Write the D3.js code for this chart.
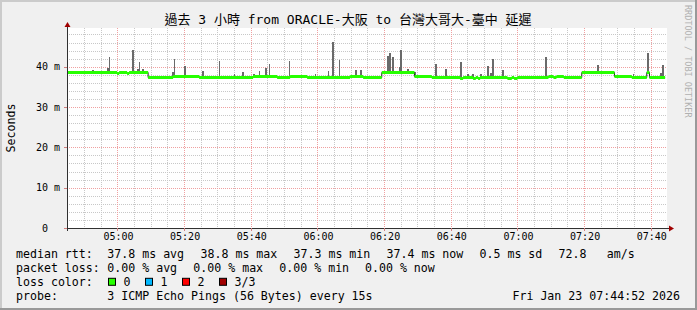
<!DOCTYPE html>
<html>
<head>
<meta charset="utf-8">
<script src="https://cdn.jsdelivr.net/npm/d3@7"></script>
<style>
  body { margin: 0; background: #f0f0f0; }
  svg text { font-family: "DejaVu Sans Mono", "Noto Sans CJK TC", monospace; white-space: pre; }
</style>
</head>
<body>
<svg id="chart" width="697" height="310"></svg>
<script>
// median rtt (ms): each value holds from its start time (minutes after 04:45)
var medianTimes  = [-0.13, 14.9, 15.5, 17.9, 18.5, 24.2, 31.7, 39.5, 55.7, 62.9, 66.8, 71.9,
                    84.8, 88.7, 94.3, 104.1, 109.3, 117.8, 118.7, 121.7, 122.5, 123.2, 123.8, 132.0,
                    133.3, 134.0, 135.0, 144.3, 145.8, 146.7, 148.9, 154.3, 164.1, 169.3, 173.8, 174.6];
var medianValues = [38.8, 38.5, 38.8, 38.5, 38.8, 37.4, 37.7, 37.4, 37.6, 37.4, 37.6, 37.4,
                    37.6, 37.5, 38.8, 37.7, 37.5, 37.3, 37.5, 37.3, 37.5, 37.3, 37.5, 37.3,
                    37.5, 37.2, 37.5, 37.7, 37.5, 37.7, 37.5, 38.8, 37.7, 37.4, 38.7, 37.4];
var medianEnd = 179.3;

// smoke (max ping) spikes: start minute, duration in minutes, top value (ms)
var smokeTimes  = [7.4, 11.9, 12.5, 19.3, 20.8, 21.5, 22.3, 31.3, 32.0, 35.1, 40.4, 45.4,
                   50.0, 52.3, 55.7, 57.6, 59.3, 60.5, 66.5, 74.4, 78.3, 79.5, 81.5, 86.3,
                   87.8, 95.8, 96.6, 97.4, 99.5, 99.8, 101.8, 104.1, 110.3, 113.3, 117.8, 119.8,
                   121.5, 123.8, 125.8, 126.8, 127.4, 130.4, 143.3, 158.8, 169.8, 173.8, 177.8, 178.3];
var smokeWidths = [0.6, 0.9, 0.3, 0.6, 0.9, 0.3, 0.6, 0.9, 0.3, 0.6, 0.6, 0.3,
                   0.3, 0.6, 0.6, 0.3, 0.6, 0.3, 0.3, 0.3, 0.3, 0.6, 0.3, 0.6,
                   0.6, 0.6, 0.6, 0.6, 0.9, 0.6, 0.6, 0.6, 0.6, 0.6, 0.6, 0.6,
                   0.6, 0.6, 0.6, 0.6, 0.6, 0.6, 0.6, 0.6, 0.3, 0.6, 0.6, 0.6];
var smokeTops   = [39.2, 39.6, 42.4, 44.1, 39.4, 41.2, 39.4, 38.8, 42.0, 40.2, 39.0, 41.5,
                   38.3, 38.8, 38.3, 38.9, 39.7, 40.7, 41.4, 38.2, 39.0, 46.1, 41.7, 39.2,
                   39.2, 42.6, 43.4, 42.5, 40.0, 44.1, 39.4, 38.7, 40.7, 39.4, 41.2, 38.2,
                   38.1, 38.1, 40.2, 38.4, 41.9, 39.1, 42.4, 40.4, 38.2, 43.4, 38.4, 40.4];

var titleText = "過去 3 小時 from ORACLE-大阪 to 台灣大哥大-臺中 延遲";
var rttStats  = ["37.8 ms avg", "38.8 ms max", "37.3 ms min", "37.4 ms now", "0.5 ms sd", "72.8", "am/s"];
var lossStats = ["0.00 % avg", "0.00 % max", "0.00 % min", "0.00 % now"];
var lossLabels = ["0", "1", "2", "3/3"];
var lossColors = ["#26ff00", "#00b8ff", "#ff0000", "#a10000"];
var probeText = "3 ICMP Echo Pings (56 Bytes) every 15s";
var stampText = "Fri Jan 23 07:44:52 2026";
var yMax = 49.6;

var svg = d3.select("#chart");
var W = 697, H = 310;
var pLeft = 67, pRight = 667, pTop = 28, pBottom = 228;

var t0 = new Date(2026, 0, 23, 4, 45, 0);
function at(m) { return new Date(t0.getTime() + m * 60000); }

var x = d3.scaleTime().domain([at(-8 / 60), at(180 - 8 / 60)]).range([pLeft, pRight]);
var y = d3.scaleLinear().domain([0, yMax]).range([pBottom, pTop]);

function medianAt(m) {
	var i = d3.bisectRight(medianTimes, m) - 1;
	return medianValues[Math.max(0, i)];
}

// background + 3d border
svg.append("rect").attr("width", W).attr("height", H).attr("fill", "#f0f0f0");
svg.append("rect").attr("x", 0).attr("y", 0).attr("width", W).attr("height", 2).attr("fill", "#cbcbcb");
svg.append("rect").attr("x", 0).attr("y", 0).attr("width", 2).attr("height", H).attr("fill", "#cbcbcb");
svg.append("rect").attr("x", 0).attr("y", H - 2).attr("width", W).attr("height", 2).attr("fill", "#999999");
svg.append("rect").attr("x", W - 2).attr("y", 0).attr("width", 2).attr("height", H).attr("fill", "#999999");

svg.append("rect").attr("x", pLeft).attr("y", pTop).attr("width", pRight - pLeft).attr("height", pBottom - pTop)
	.attr("fill", "#ffffff");

// grid
var grid = svg.append("g").attr("stroke-width", 1).attr("stroke-dasharray", "1,1").attr("shape-rendering", "crispEdges");
var minorX = x.ticks(d3.timeMinute.every(5)).filter(function (d) { return d.getMinutes() % 20 !== 0; });
var majorX = x.ticks(d3.timeMinute.every(20));
var minorY = d3.range(2, yMax, 2).filter(function (v) { return v % 10 !== 0; });
var majorY = d3.range(10, yMax, 10);

grid.selectAll(".gx").data(minorX).enter().append("line")
	.attr("x1", function (d) { return Math.round(x(d)) + 0.5; })
	.attr("x2", function (d) { return Math.round(x(d)) + 0.5; })
	.attr("y1", pTop).attr("y2", pBottom).attr("stroke", "#c8c8c8");
grid.selectAll(".gy").data(minorY).enter().append("line")
	.attr("y1", function (d) { return Math.round(y(d)) + 0.5; })
	.attr("y2", function (d) { return Math.round(y(d)) + 0.5; })
	.attr("x1", pLeft).attr("x2", pRight).attr("stroke", "#c8c8c8");
grid.selectAll(".mx").data(majorX).enter().append("line")
	.attr("x1", function (d) { return Math.round(x(d)) + 0.5; })
	.attr("x2", function (d) { return Math.round(x(d)) + 0.5; })
	.attr("y1", pTop).attr("y2", pBottom).attr("stroke", "#f0a0a0");
grid.selectAll(".my").data(majorY).enter().append("line")
	.attr("y1", function (d) { return Math.round(y(d)) + 0.5; })
	.attr("y2", function (d) { return Math.round(y(d)) + 0.5; })
	.attr("x1", pLeft).attr("x2", pRight).attr("stroke", "#f0a0a0");

// smoke
svg.append("g").attr("shape-rendering", "crispEdges")
	.selectAll("rect").data(smokeTimes).enter().append("rect")
	.attr("x", function (d) { return Math.round(x(at(d))); })
	.attr("width", function (d, i) { return Math.max(1, Math.round(x(at(d + smokeWidths[i])) - x(at(d)))); })
	.attr("y", function (d, i) { return Math.round(y(smokeTops[i])); })
	.attr("height", function (d, i) { return Math.max(1, Math.round(y(medianAt(d))) - Math.round(y(smokeTops[i]))); })
	.attr("fill", "#6a6a6a");

// median
var medianPts = medianTimes.map(function (t, i) { return { t: t, v: medianValues[i] }; });
medianPts.push({ t: medianEnd, v: medianValues[medianValues.length - 1] });

svg.append("path").datum(medianPts)
	.attr("d", d3.line().curve(d3.curveStepAfter)
		.x(function (d) { return x(at(d.t)); })
		.y(function (d) { return Math.round(y(d.v)) + 0.5; }))
	.attr("fill", "none").attr("stroke", "#202020").attr("stroke-width", 1);

svg.append("path").datum(medianPts)
	.attr("d", d3.area().curve(d3.curveStepAfter)
		.x(function (d) { return x(at(d.t)); })
		.y0(function (d) { return Math.round(y(d.v)) + 2; })
		.y1(function (d) { return Math.round(y(d.v)) - 1; }))
	.attr("fill", lossColors[0]);

// axes
var axis = svg.append("g").attr("shape-rendering", "crispEdges").attr("stroke", "#303030");
axis.append("line").attr("x1", pLeft + 0.5).attr("x2", pLeft + 0.5).attr("y1", pTop - 2).attr("y2", pBottom + 3);
axis.append("line").attr("x1", pLeft - 3).attr("x2", pRight + 3).attr("y1", pBottom + 0.5).attr("y2", pBottom + 0.5);
axis.selectAll(".tx").data(majorX).enter().append("line")
	.attr("x1", function (d) { return Math.round(x(d)) + 0.5; })
	.attr("x2", function (d) { return Math.round(x(d)) + 0.5; })
	.attr("y1", pBottom).attr("y2", pBottom + 3).attr("stroke", "#d08080");
axis.selectAll(".ty").data([0].concat(majorY)).enter().append("line")
	.attr("y1", function (d) { return Math.round(y(d)) + 0.5; })
	.attr("y2", function (d) { return Math.round(y(d)) + 0.5; })
	.attr("x1", pLeft - 3).attr("x2", pLeft).attr("stroke", "#d08080");

svg.append("path").attr("d", "M" + (pLeft - 2.5) + "," + (pTop - 1) + "L" + (pLeft + 0.5) + "," + (pTop - 6) + "L" + (pLeft + 3.5) + "," + (pTop - 1) + "Z")
	.attr("fill", "#a00000");
svg.append("path").attr("d", "M" + (pRight + 2) + "," + (pBottom - 2.5) + "L" + (pRight + 7) + "," + (pBottom + 0.5) + "L" + (pRight + 2) + "," + (pBottom + 3.5) + "Z")
	.attr("fill", "#a00000");

// tick labels
svg.selectAll(".xl").data(majorX).enter().append("text")
	.attr("x", function (d) { return x(d) + 1; })
	.attr("y", 240)
	.attr("text-anchor", "middle")
	.attr("font-size", "10px")
	.text(d3.timeFormat("%H:%M"));

svg.selectAll(".yl").data([0].concat(majorY)).enter().append("text")
	.attr("x", 60)
	.attr("y", function (d) { return y(d) + 3.5; })
	.attr("text-anchor", "end")
	.attr("font-size", "10px")
	.text(function (d) { return d === 0 ? "0  " : d + " m"; });

svg.append("text")
	.attr("transform", "translate(15,128) rotate(-90)")
	.attr("text-anchor", "middle")
	.attr("font-size", "11.6px")
	.text("Seconds");

// title
svg.append("text").attr("x", 348).attr("y", 24).attr("text-anchor", "middle")
	.attr("font-size", "13px").text(titleText);

svg.append("text").attr("transform", "translate(685,5) rotate(90)")
	.attr("font-size", "8.5px").attr("fill", "#b0b0b0")
	.text("RRDTOOL / TOBI OETIKER");

// legend
var fs = "11.6px";
var rows = [257.5, 271.6, 285.8, 300];
var leg = svg.append("g").attr("font-size", fs);

leg.append("text").attr("x", 16).attr("y", rows[0]).text("median rtt:");
var rttX = [107.3, 200.5, 293.5, 386.5, 479.5, 558.5, 606.7];
leg.selectAll(".r").data(rttStats).enter().append("text")
	.attr("x", function (d, i) { return rttX[i]; }).attr("y", rows[0]).text(function (d) { return d; });

leg.append("text").attr("x", 16).attr("y", rows[1]).text("packet loss:");
var lossX = [107.3, 193.3, 279.3, 365];
leg.selectAll(".l").data(lossStats).enter().append("text")
	.attr("x", function (d, i) { return lossX[i]; }).attr("y", rows[1]).text(function (d) { return d; });

leg.append("text").attr("x", 16).attr("y", rows[2]).text("loss color:");
var boxX = [108.5, 145.5, 182.5, 219.5];
leg.selectAll(".b").data(lossColors).enter().append("rect")
	.attr("x", function (d, i) { return boxX[i]; }).attr("y", rows[2] - 7.5)
	.attr("width", 7).attr("height", 7)
	.attr("fill", function (d) { return d; })
	.attr("stroke", "#000").attr("stroke-width", 1);
leg.selectAll(".c").data(lossLabels).enter().append("text")
	.attr("x", function (d, i) { return boxX[i] + 15; }).attr("y", rows[2]).text(function (d) { return d; });

leg.append("text").attr("x", 16).attr("y", rows[3]).text("probe:");
leg.append("text").attr("x", 107.3).attr("y", rows[3]).text(probeText);
leg.append("text").attr("x", 680).attr("y", rows[3]).attr("text-anchor", "end").text(stampText);
</script>
</body>
</html>
